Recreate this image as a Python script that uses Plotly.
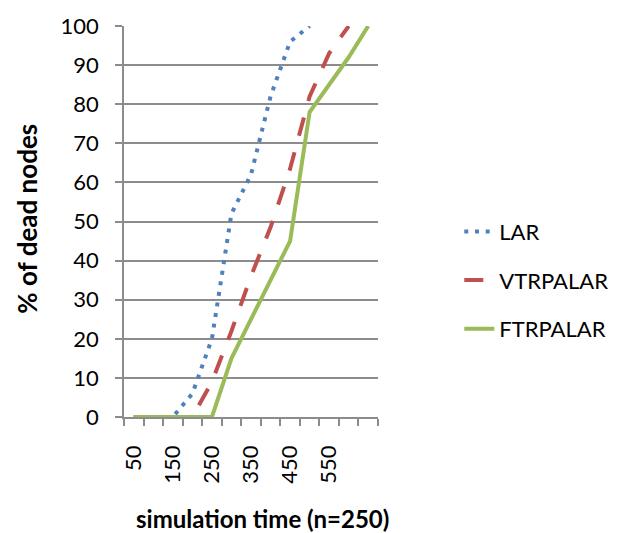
import plotly.graph_objects as go

# ---- data ----
sim_time = [50, 100, 150, 200, 250, 300, 350, 400, 450, 500, 550, 600, 650]
lar = [0, 0, 0, 6, 20, 52, 62, 82, 96, 100, None, None, None]
vtrpalar = [0, 0, 0, 0, 9, 22, 36, 48.5, 63.5, 82, 93, 100, None]
ftrpalar = [0, 0, 0, 0, 0, 15, 25, 35, 45, 78, 85, 92, 100]
x_tick_labels = [50, 150, 250, 350, 450, 550]
y_ticks = [0, 10, 20, 30, 40, 50, 60, 70, 80, 90, 100]

FONT = "Lato"
GRID = "#8c8c8c"

fig = go.Figure()
fig.add_trace(go.Scatter(x=sim_time, y=lar, name="LAR", mode="lines",
                         line=dict(color="#4F81BD", width=4, dash="4px,6.7px"),
                         legendgroup="a"))
fig.add_trace(go.Scatter(x=sim_time, y=vtrpalar, name="VTRPALAR", mode="lines",
                         line=dict(color="#C0504D", width=4, dash="19px,17px"),
                         legendgroup="b"))
fig.add_trace(go.Scatter(x=sim_time, y=ftrpalar, name="FTRPALAR", mode="lines",
                         line=dict(color="#9BBB59", width=4),
                         legendgroup="c"))

fig.update_layout(
    width=629, height=533,
    margin=dict(l=124, r=251, t=19, b=116),
    paper_bgcolor="white", plot_bgcolor="white",
    font=dict(family=FONT, size=22, color="black"),
    showlegend=True,
    legend=dict(x=1.32, xanchor="left", y=0.350, yanchor="middle",
                font=dict(family=FONT, size=22, color="black"),
                tracegroupgap=17, itemwidth=30, bgcolor="rgba(0,0,0,0)"),
    xaxis=dict(range=[25, 675], tickmode="array", tickvals=x_tick_labels,
               ticktext=[str(v) for v in x_tick_labels], tickangle=-90,
               ticks="", showgrid=False, zeroline=False,
               showline=True, linecolor=GRID, linewidth=1.5,
               ticklabelstandoff=18,
               minor=dict(ticks="outside", tick0=25, dtick=50, ticklen=7,
                          tickcolor=GRID, tickwidth=1.5, showgrid=False),
               tickfont=dict(family=FONT, size=22, color="black")),
    yaxis=dict(range=[0, 100], tickmode="array", tickvals=y_ticks,
               ticks="outside", ticklen=7, tickcolor=GRID, tickwidth=1.5,
               showgrid=True, gridcolor=GRID, gridwidth=1.5,
               zeroline=False, showline=True, linecolor=GRID, linewidth=1.5,
               ticklabelstandoff=12,
               tickfont=dict(family=FONT, size=22, color="black")),
    annotations=[
        dict(text="<b>% of dead nodes</b>", xref="paper", yref="paper",
             x=(26 - 124) / 254.3, y=(417 - 215) / 398, textangle=-90,
             showarrow=False, xanchor="center", yanchor="middle",
             font=dict(family=FONT, size=26, color="black")),
        dict(text="<b>simulation time (n=250)</b>", xref="paper", yref="paper",
             x=(263 - 124) / 254.3, y=-(520 - 417) / 398,
             showarrow=False, xanchor="center", yanchor="middle",
             font=dict(family=FONT, size=24, color="black")),
    ],
)

fig.write_html("out.html")
